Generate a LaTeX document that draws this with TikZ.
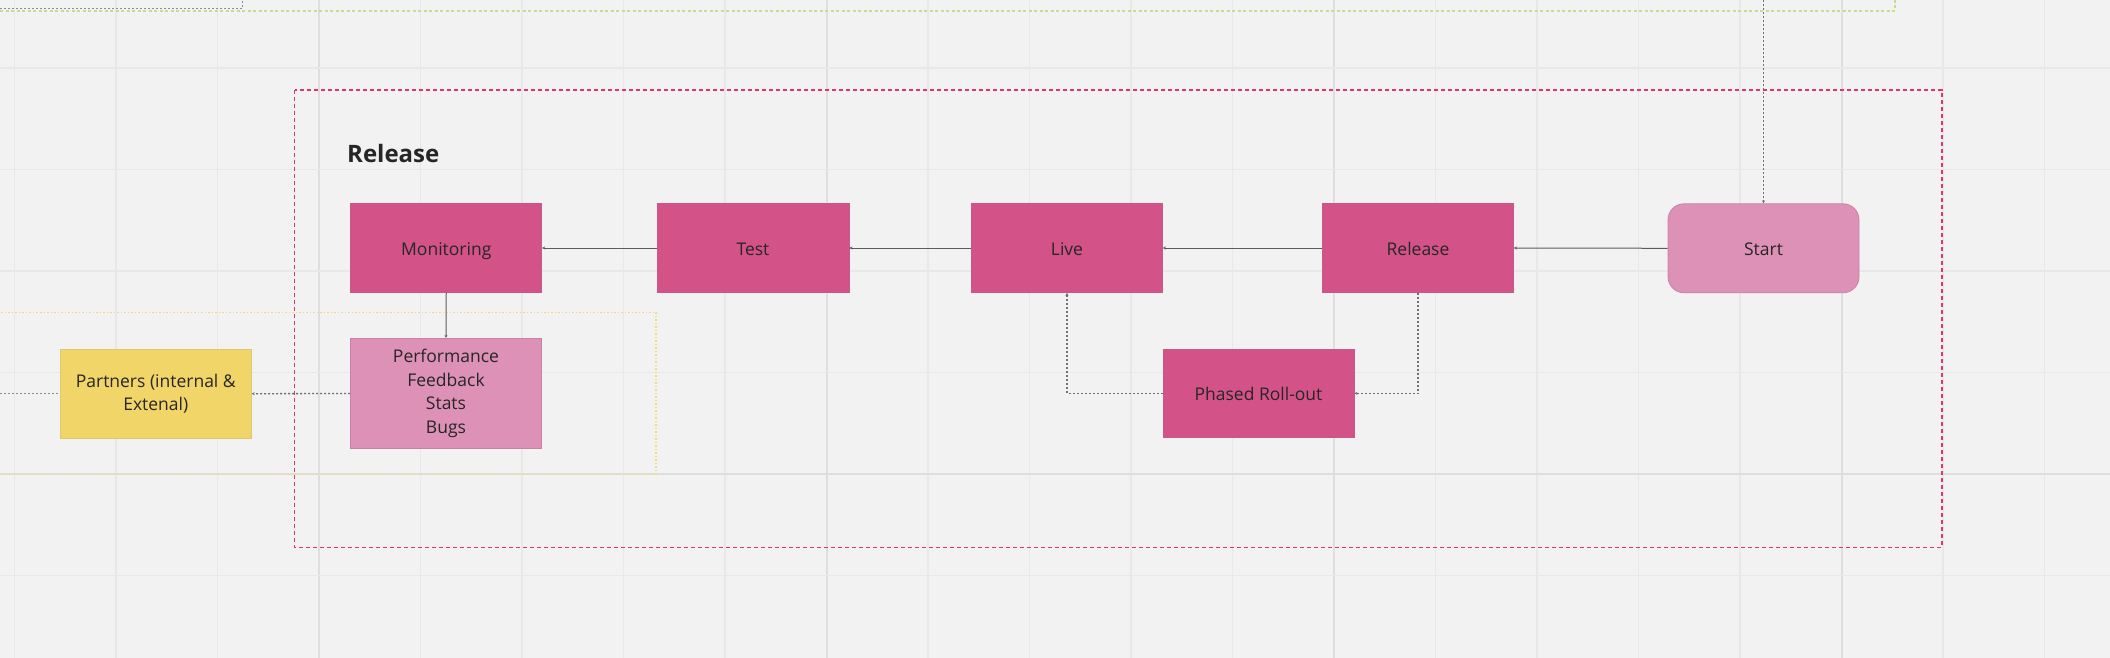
\documentclass[tikz,border=0pt]{standalone}
\usepackage{fontspec}
\setmainfont{Open Sans}
\usetikzlibrary{arrows.meta}
\definecolor{bgc}{HTML}{F2F2F2}
\definecolor{gridminor}{HTML}{E8E8E8}
\definecolor{gridmajor}{HTML}{DEDEDE}
\definecolor{pinkdark}{HTML}{D35389}
\definecolor{pinkdarkborder}{HTML}{C9578A}
\definecolor{pinklight}{HTML}{DD91B6}
\definecolor{pinklightborder}{HTML}{C882A6}
\definecolor{yellowbox}{HTML}{F1D568}
\definecolor{yellowborder}{HTML}{DCC86E}
\definecolor{framecol}{HTML}{E2336F}
\definecolor{yellowframe}{HTML}{F2DC7A}
\definecolor{greenline}{HTML}{C3DE8C}
\definecolor{linecol}{HTML}{5C5C5C}
\definecolor{dotcol}{HTML}{707070}
\definecolor{txt}{HTML}{262626}
\tikzset{
  stepbox/.style={rectangle, fill=pinkdark, draw=pinkdarkborder, line width=0.8pt,
    minimum width=191pt, minimum height=89pt, inner sep=0pt, align=center,
    font=\fontsize{17.5pt}{23.7pt}\selectfont, text=txt},
  oneline/.style={text height=15pt, text depth=0pt},
  lightbox/.style={stepbox, fill=pinklight, draw=pinklightborder},
  yellowbx/.style={stepbox, fill=yellowbox, draw=yellowborder},
  conn/.style={draw=linecol, line width=1pt, -{Stealth[length=3pt,width=3pt]}},
  dconn/.style={draw=dotcol, line width=1.3pt, dash pattern=on 2pt off 2pt, -{Stealth[length=3pt,width=3pt]}},
  dplain/.style={draw=dotcol!80, line width=1.3pt, dash pattern=on 2pt off 2pt},
}
\begin{document}
\begin{tikzpicture}[x=1pt, y=-1pt]
\useasboundingbox (0,0) rectangle (2110,658);
\fill[bgc] (0,0) rectangle (2110,658);
% grid
\foreach \gx in {14.5,116,217.5,420.5,522,623.5,725,928,1029.5,1131,1232.5,1435.5,1537,1638.5,1740,1943,2044.5}
  \draw[gridminor, line width=1.5pt] (\gx,0) -- (\gx,658);
\foreach \gx in {319,826.5,1334,1841.5}
  \draw[gridmajor, line width=2pt] (\gx,0) -- (\gx,658);
\foreach \gy in {68,169.5,271,372.5,575.5}
  \draw[gridminor, line width=1.5pt] (0,\gy) -- (2110,\gy);
\draw[gridmajor, line width=2.5pt] (0,474) -- (2110,474);

% top decorations
\coordinate (gA) at (0,8.3);
\coordinate (gB) at (242.4,0);
\draw[dplain] (gA) -| (gB);
\coordinate (grA) at (0,10.7);
\coordinate (grB) at (1895,0);
\draw[greenline, line width=1.8pt, dash pattern=on 3pt off 2.5pt] (grA) -| (grB);

% yellow dotted frame
\draw[yellowframe, line width=1.1pt, dash pattern=on 1.5pt off 2pt] (-5,312.3) rectangle (656,474.3);

% release frame
\draw[framecol, line width=1.2pt, dash pattern=on 4pt off 3pt] (294.7,90) rectangle (1942,547.5);
\node[anchor=base west, inner sep=0pt, font=\fontsize{24pt}{28pt}\selectfont\bfseries, text=txt] (title) at (347,162.5) {Release};

% nodes
\node[stepbox, oneline] (mon) at (446.25,248) {Monitoring};
\node[stepbox, oneline, minimum width=192pt] (test) at (753,248) {Test};
\node[stepbox, oneline] (live) at (1067,248) {Live};
\node[stepbox, oneline] (rel) at (1418,248) {Release};
\node[stepbox, oneline, minimum height=88pt] (phased) at (1258.5,393.4) {Phased Roll-out};
\node[lightbox, oneline, rounded corners=16pt] (start) at (1763.5,248.3) {Start};
\node[lightbox, minimum height=110.4pt] (perf) at (446,393.5) {Performance\\Feedback\\Stats\\Bugs};
\node[yellowbx] (partners) at (155.8,393.7) {Partners (internal \&\\Extenal)};

% connectors
\draw[conn] (test.west) -- (mon.east);
\draw[conn] (live.west) -- (test.east);
\draw[conn] (rel.west) -- (live.east);
\draw[conn] (start.west) -- (rel.east);
\draw[conn] (mon.south) -- (perf.north);
\draw[dconn] (phased.west) -| (live.south);
\draw[dconn] (rel.south) |- (phased.east);
\draw[dconn] (perf.west) -- (partners.east);
\coordinate (leftend) at (0,393.7);
\draw[dplain] (leftend) -- (partners.west);
\coordinate (topend) at (1763.5,0);
\draw[dconn] (topend) -- (start.north);
\end{tikzpicture}
\end{document}
